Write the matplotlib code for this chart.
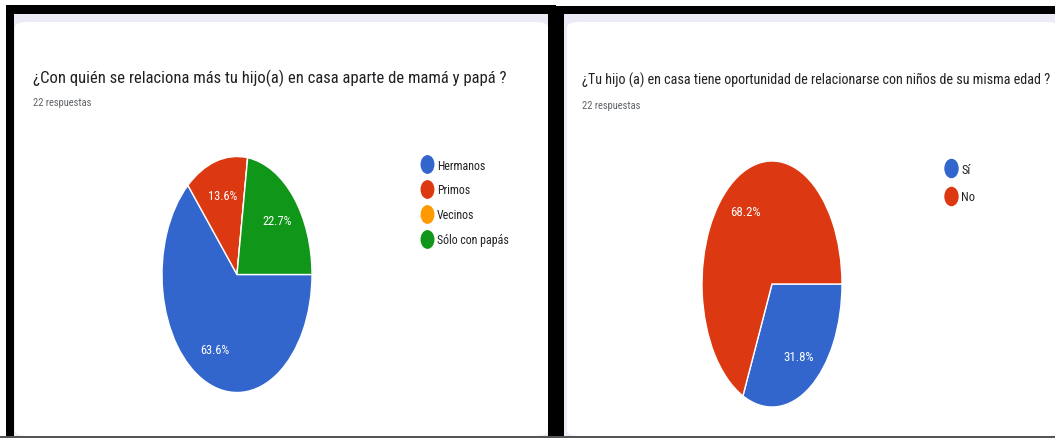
import matplotlib
matplotlib.use("Agg")
import matplotlib.pyplot as plt
from matplotlib import font_manager
from matplotlib.patches import Rectangle, FancyBboxPatch
from matplotlib.lines import Line2D
from matplotlib.path import Path
import numpy as np

# datos de las dos preguntas (22 respuestas cada una)
titulo_1 = "¿Con quién se relaciona más tu hijo(a) en casa aparte de mamá y papá ?"
etiquetas_1 = ["Hermanos", "Primos", "Vecinos", "Sólo con papás"]
respuestas_1 = [14, 3, 0, 5]
colores_1 = ["#3366CC", "#DC3912", "#FF9900", "#109618"]

titulo_2 = "¿Tu hijo (a) en casa tiene oportunidad de relacionarse con niños de su misma edad ?"
etiquetas_2 = ["Sí", "No"]
respuestas_2 = [7, 15]
colores_2 = ["#3366CC", "#DC3912"]

subtitulo = "22 respuestas"

W, H = 1055, 439
names = {f.name for f in font_manager.fontManager.ttflist}
FONT = "Roboto"
for cand in ["Roboto Condensed", "Liberation Sans Narrow", "Arial Narrow"]:
    if cand in names:
        FONT = cand
        break
plt.rcParams["font.family"] = [FONT, "DejaVu Sans"]

fig = plt.figure(figsize=(W / 100, H / 100), dpi=100)
fig.patch.set_facecolor("white")
renderer = fig.canvas.get_renderer()


def rect(x0, y0, x1, y1, color, rounded=False):
    # coordenadas en pixeles, origen arriba a la izquierda
    if rounded:
        p = FancyBboxPatch((x0 / W, 1 - y1 / H), (x1 - x0) / W, (y1 - y0) / H,
                           boxstyle="round,pad=0,rounding_size=0.012",
                           transform=fig.transFigure, facecolor=color,
                           edgecolor="none", zorder=-10)
    else:
        p = Rectangle((x0 / W, 1 - y1 / H), (x1 - x0) / W, (y1 - y0) / H,
                      transform=fig.transFigure, facecolor=color,
                      edgecolor="none", zorder=-10)
    fig.add_artist(p)


def fit(t, width):
    # ajusta el tamaño de letra al ancho de la captura (que esta comprimida)
    w = t.get_window_extent(renderer).width
    t.set_fontsize(t.get_fontsize() * width / w)


# marcos negros y tarjetas
rect(6, 6, 556, 439, "black")
rect(14, 15, 548, 437, "#ECEAF4")
rect(15, 23, 548, 437, "white", rounded=True)
rect(556, 7, 1055, 439, "black")
rect(564, 15, 1060, 437, "#ECEAF4")
rect(567, 23, 1060, 437, "white", rounded=True)
rect(0, 437, 1055, 439, "#555555")

# elipse para los marcadores de la leyenda (captura comprimida)
circ = Path.unit_circle()
marker_ellipse = Path(circ.vertices * np.array([0.72, 1.0]), circ.codes)


def pct(v):
    return "" if v < 0.05 else f"{v:.1f}%"


def draw_panel(cx, cy, rx, ry, valores, etiquetas, colores, titulo, tx, ty,
               tw, legx, legy, k, spacing):
    t = fig.text(tx / W, 1 - ty / H, titulo, fontsize=12, color="#202124",
                 va="baseline", ha="left")
    fit(t, tw)
    s = fig.text(tx / W, 1 - (ty + 23 * k) / H, subtitulo, fontsize=8,
                 color="#5f6368", va="baseline", ha="left")
    fit(s, 59)

    ax = fig.add_axes([(cx - rx) / W, 1 - (cy + ry) / H, 2 * rx / W, 2 * ry / H])
    ax.pie(valores, colors=colores, startangle=0, counterclock=False,
           autopct=pct, pctdistance=0.7, radius=1,
           wedgeprops=dict(edgecolor="white", linewidth=1),
           textprops=dict(color="white", fontsize=8.9 * k))
    ax.set_aspect("auto")
    ax.set_xlim(-1, 1)
    ax.set_ylim(-1, 1)
    ax.axis("off")

    handles = [Line2D([], [], linestyle="none", marker=marker_ellipse,
                      markersize=12.5 * k, markerfacecolor=c, markeredgecolor=c)
               for c in colores]
    ax.legend(handles, etiquetas, loc="upper left",
              bbox_to_anchor=(legx / W, 1 - legy / H),
              bbox_transform=fig.transFigure, frameon=False,
              fontsize=8.6 * k, handlelength=0.7, handletextpad=0.45,
              labelspacing=spacing, borderpad=0, borderaxespad=0,
              labelcolor="#222222")


draw_panel(237, 275.5, 75, 118, respuestas_1, etiquetas_1, colores_1,
           titulo_1, 33, 83, 472, 423, 159.5, 1.0, 1.0)
draw_panel(772, 285, 70, 123, respuestas_2, etiquetas_2, colores_2,
           titulo_2, 582, 85, 471, 947, 163.5, 1.04, 1.2)

fig.savefig("out.png", dpi=100, facecolor="white")
